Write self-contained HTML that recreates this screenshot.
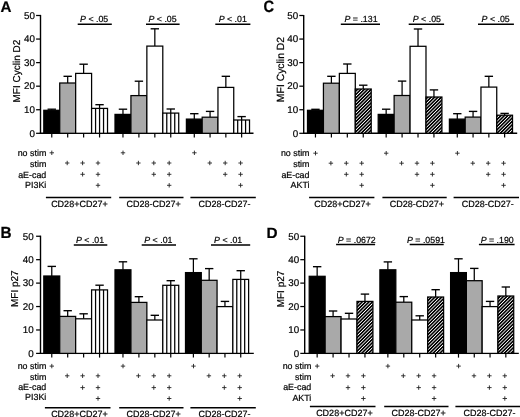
<!DOCTYPE html>
<html><head><meta charset="utf-8"><style>
html,body{margin:0;padding:0;background:#fff;}
body{width:520px;height:417px;overflow:hidden;}
svg{display:block;text-rendering:geometricPrecision;font-family:"Liberation Sans", sans-serif;filter:blur(0.35px);}
text{fill:#000;stroke:#000;stroke-width:0.2px;}
</style></head><body>
<svg width="520" height="417" viewBox="0 0 520 417">
<defs>
<pattern id="hatch" patternUnits="userSpaceOnUse" width="10" height="2.4" patternTransform="rotate(-45)">
<rect width="10" height="2.4" fill="#000"/><rect y="0" width="10" height="0.8" fill="#fff"/>
</pattern>
</defs>
<rect width="520" height="417" fill="#fff"/>
<text x="0" y="0" font-size="15.2" font-weight="bold" transform="translate(0.40,11.70) scale(1,1)">A</text>
<line x1="40.50" y1="14.90" x2="40.50" y2="133.90" stroke="#000" stroke-width="1.4"/>
<line x1="36.10" y1="133.30" x2="40.50" y2="133.30" stroke="#000" stroke-width="1.25"/>
<text x="35.00" y="136.60" font-size="9.8" text-anchor="end" font-weight="normal" font-style="normal" >0</text>
<line x1="36.10" y1="109.74" x2="40.50" y2="109.74" stroke="#000" stroke-width="1.25"/>
<text x="35.00" y="113.04" font-size="9.8" text-anchor="end" font-weight="normal" font-style="normal" >10</text>
<line x1="36.10" y1="86.18" x2="40.50" y2="86.18" stroke="#000" stroke-width="1.25"/>
<text x="35.00" y="89.48" font-size="9.8" text-anchor="end" font-weight="normal" font-style="normal" >20</text>
<line x1="36.10" y1="62.62" x2="40.50" y2="62.62" stroke="#000" stroke-width="1.25"/>
<text x="35.00" y="65.92" font-size="9.8" text-anchor="end" font-weight="normal" font-style="normal" >30</text>
<line x1="36.10" y1="39.06" x2="40.50" y2="39.06" stroke="#000" stroke-width="1.25"/>
<text x="35.00" y="42.36" font-size="9.8" text-anchor="end" font-weight="normal" font-style="normal" >40</text>
<line x1="36.10" y1="15.50" x2="40.50" y2="15.50" stroke="#000" stroke-width="1.25"/>
<text x="35.00" y="18.80" font-size="9.8" text-anchor="end" font-weight="normal" font-style="normal" >50</text>
<text x="0" y="0" font-size="10" text-anchor="middle" transform="translate(19.80,71.10) rotate(-90)">MFI Cyclin D2</text>
<line x1="39.80" y1="133.30" x2="253.50" y2="133.30" stroke="#000" stroke-width="1.4"/>
<line x1="51.77" y1="109.20" x2="51.77" y2="110.30" stroke="#000" stroke-width="1.25"/>
<line x1="47.56" y1="109.20" x2="55.97" y2="109.20" stroke="#000" stroke-width="1.35"/>
<rect x="43.80" y="110.30" width="15.93" height="23.00" fill="#000" stroke="#000" stroke-width="1.25"/>
<line x1="51.77" y1="133.30" x2="51.77" y2="137.50" stroke="#000" stroke-width="1.2"/>
<line x1="67.69" y1="76.30" x2="67.69" y2="83.00" stroke="#000" stroke-width="1.25"/>
<line x1="63.49" y1="76.30" x2="71.89" y2="76.30" stroke="#000" stroke-width="1.35"/>
<rect x="59.73" y="83.00" width="15.93" height="50.30" fill="#a9a9a9" stroke="#000" stroke-width="1.25"/>
<line x1="67.69" y1="133.30" x2="67.69" y2="137.50" stroke="#000" stroke-width="1.2"/>
<line x1="83.62" y1="64.20" x2="83.62" y2="73.40" stroke="#000" stroke-width="1.25"/>
<line x1="79.42" y1="64.20" x2="87.83" y2="64.20" stroke="#000" stroke-width="1.35"/>
<rect x="75.66" y="73.40" width="15.93" height="59.90" fill="#fff" stroke="#000" stroke-width="1.25"/>
<line x1="83.62" y1="133.30" x2="83.62" y2="137.50" stroke="#000" stroke-width="1.2"/>
<line x1="99.56" y1="104.70" x2="99.56" y2="108.40" stroke="#000" stroke-width="1.25"/>
<line x1="95.36" y1="104.70" x2="103.76" y2="104.70" stroke="#000" stroke-width="1.35"/>
<rect x="91.59" y="108.40" width="15.93" height="24.90" fill="#fff" stroke="#000" stroke-width="1.25"/>
<line x1="95.57" y1="108.40" x2="95.57" y2="133.30" stroke="#000" stroke-width="1.25"/>
<line x1="99.56" y1="108.40" x2="99.56" y2="133.30" stroke="#000" stroke-width="1.25"/>
<line x1="103.54" y1="108.40" x2="103.54" y2="133.30" stroke="#000" stroke-width="1.25"/>
<line x1="99.56" y1="133.30" x2="99.56" y2="137.50" stroke="#000" stroke-width="1.2"/>
<line x1="122.97" y1="109.20" x2="122.97" y2="114.40" stroke="#000" stroke-width="1.25"/>
<line x1="118.77" y1="109.20" x2="127.17" y2="109.20" stroke="#000" stroke-width="1.35"/>
<rect x="115.00" y="114.40" width="15.93" height="18.90" fill="#000" stroke="#000" stroke-width="1.25"/>
<line x1="122.97" y1="133.30" x2="122.97" y2="137.50" stroke="#000" stroke-width="1.2"/>
<line x1="138.90" y1="81.20" x2="138.90" y2="95.60" stroke="#000" stroke-width="1.25"/>
<line x1="134.70" y1="81.20" x2="143.09" y2="81.20" stroke="#000" stroke-width="1.35"/>
<rect x="130.93" y="95.60" width="15.93" height="37.70" fill="#a9a9a9" stroke="#000" stroke-width="1.25"/>
<line x1="138.90" y1="133.30" x2="138.90" y2="137.50" stroke="#000" stroke-width="1.2"/>
<line x1="154.83" y1="28.80" x2="154.83" y2="46.10" stroke="#000" stroke-width="1.25"/>
<line x1="150.63" y1="28.80" x2="159.03" y2="28.80" stroke="#000" stroke-width="1.35"/>
<rect x="146.86" y="46.10" width="15.93" height="87.20" fill="#fff" stroke="#000" stroke-width="1.25"/>
<line x1="154.83" y1="133.30" x2="154.83" y2="137.50" stroke="#000" stroke-width="1.2"/>
<line x1="170.75" y1="109.00" x2="170.75" y2="113.10" stroke="#000" stroke-width="1.25"/>
<line x1="166.56" y1="109.00" x2="174.95" y2="109.00" stroke="#000" stroke-width="1.35"/>
<rect x="162.79" y="113.10" width="15.93" height="20.20" fill="#fff" stroke="#000" stroke-width="1.25"/>
<line x1="166.77" y1="113.10" x2="166.77" y2="133.30" stroke="#000" stroke-width="1.25"/>
<line x1="170.75" y1="113.10" x2="170.75" y2="133.30" stroke="#000" stroke-width="1.25"/>
<line x1="174.74" y1="113.10" x2="174.74" y2="133.30" stroke="#000" stroke-width="1.25"/>
<line x1="170.75" y1="133.30" x2="170.75" y2="137.50" stroke="#000" stroke-width="1.2"/>
<line x1="194.29" y1="113.70" x2="194.29" y2="119.10" stroke="#000" stroke-width="1.25"/>
<line x1="190.09" y1="113.70" x2="198.49" y2="113.70" stroke="#000" stroke-width="1.35"/>
<rect x="186.40" y="119.10" width="15.78" height="14.20" fill="#000" stroke="#000" stroke-width="1.25"/>
<line x1="194.29" y1="133.30" x2="194.29" y2="137.50" stroke="#000" stroke-width="1.2"/>
<line x1="210.07" y1="111.40" x2="210.07" y2="117.20" stroke="#000" stroke-width="1.25"/>
<line x1="205.87" y1="111.40" x2="214.27" y2="111.40" stroke="#000" stroke-width="1.35"/>
<rect x="202.18" y="117.20" width="15.78" height="16.10" fill="#a9a9a9" stroke="#000" stroke-width="1.25"/>
<line x1="210.07" y1="133.30" x2="210.07" y2="137.50" stroke="#000" stroke-width="1.2"/>
<line x1="225.85" y1="76.30" x2="225.85" y2="87.40" stroke="#000" stroke-width="1.25"/>
<line x1="221.65" y1="76.30" x2="230.05" y2="76.30" stroke="#000" stroke-width="1.35"/>
<rect x="217.96" y="87.40" width="15.78" height="45.90" fill="#fff" stroke="#000" stroke-width="1.25"/>
<line x1="225.85" y1="133.30" x2="225.85" y2="137.50" stroke="#000" stroke-width="1.2"/>
<line x1="241.63" y1="116.60" x2="241.63" y2="120.00" stroke="#000" stroke-width="1.25"/>
<line x1="237.43" y1="116.60" x2="245.83" y2="116.60" stroke="#000" stroke-width="1.35"/>
<rect x="233.74" y="120.00" width="15.78" height="13.30" fill="#fff" stroke="#000" stroke-width="1.25"/>
<line x1="237.69" y1="120.00" x2="237.69" y2="133.30" stroke="#000" stroke-width="1.25"/>
<line x1="241.63" y1="120.00" x2="241.63" y2="133.30" stroke="#000" stroke-width="1.25"/>
<line x1="245.58" y1="120.00" x2="245.58" y2="133.30" stroke="#000" stroke-width="1.25"/>
<line x1="241.63" y1="133.30" x2="241.63" y2="137.50" stroke="#000" stroke-width="1.2"/>
<line x1="77.70" y1="24.30" x2="111.80" y2="24.30" stroke="#000" stroke-width="1.5"/>
<text x="80.10" y="22.40" font-size="8.8"><tspan font-style="italic">P</tspan> &lt; .05</text>
<line x1="146.00" y1="24.30" x2="179.60" y2="24.30" stroke="#000" stroke-width="1.5"/>
<text x="148.50" y="22.40" font-size="8.8"><tspan font-style="italic">P</tspan> &lt; .05</text>
<line x1="215.30" y1="24.30" x2="250.40" y2="24.30" stroke="#000" stroke-width="1.5"/>
<text x="218.70" y="22.40" font-size="8.8"><tspan font-style="italic">P</tspan> &lt; .01</text>
<text x="46.30" y="156.00" font-size="8.9" text-anchor="end" font-weight="normal" font-style="normal" >no stim</text>
<text x="46.30" y="166.80" font-size="8.9" text-anchor="end" font-weight="normal" font-style="normal" >stim</text>
<text x="46.30" y="177.60" font-size="8.9" text-anchor="end" font-weight="normal" font-style="normal" >aE-cad</text>
<text x="46.30" y="188.20" font-size="8.9" text-anchor="end" font-weight="normal" font-style="normal" >PI3Ki</text>
<line x1="49.60" y1="152.80" x2="54.00" y2="152.80" stroke="#222" stroke-width="0.9"/>
<line x1="51.80" y1="150.60" x2="51.80" y2="155.00" stroke="#222" stroke-width="0.9"/>
<line x1="65.00" y1="163.00" x2="69.40" y2="163.00" stroke="#222" stroke-width="0.9"/>
<line x1="67.20" y1="160.80" x2="67.20" y2="165.20" stroke="#222" stroke-width="0.9"/>
<line x1="80.40" y1="163.00" x2="84.80" y2="163.00" stroke="#222" stroke-width="0.9"/>
<line x1="82.60" y1="160.80" x2="82.60" y2="165.20" stroke="#222" stroke-width="0.9"/>
<line x1="95.80" y1="163.00" x2="100.20" y2="163.00" stroke="#222" stroke-width="0.9"/>
<line x1="98.00" y1="160.80" x2="98.00" y2="165.20" stroke="#222" stroke-width="0.9"/>
<line x1="80.40" y1="174.30" x2="84.80" y2="174.30" stroke="#222" stroke-width="0.9"/>
<line x1="82.60" y1="172.10" x2="82.60" y2="176.50" stroke="#222" stroke-width="0.9"/>
<line x1="95.80" y1="174.30" x2="100.20" y2="174.30" stroke="#222" stroke-width="0.9"/>
<line x1="98.00" y1="172.10" x2="98.00" y2="176.50" stroke="#222" stroke-width="0.9"/>
<line x1="95.80" y1="185.30" x2="100.20" y2="185.30" stroke="#222" stroke-width="0.9"/>
<line x1="98.00" y1="183.10" x2="98.00" y2="187.50" stroke="#222" stroke-width="0.9"/>
<line x1="120.80" y1="152.80" x2="125.20" y2="152.80" stroke="#222" stroke-width="0.9"/>
<line x1="123.00" y1="150.60" x2="123.00" y2="155.00" stroke="#222" stroke-width="0.9"/>
<line x1="136.20" y1="163.00" x2="140.60" y2="163.00" stroke="#222" stroke-width="0.9"/>
<line x1="138.40" y1="160.80" x2="138.40" y2="165.20" stroke="#222" stroke-width="0.9"/>
<line x1="151.60" y1="163.00" x2="156.00" y2="163.00" stroke="#222" stroke-width="0.9"/>
<line x1="153.80" y1="160.80" x2="153.80" y2="165.20" stroke="#222" stroke-width="0.9"/>
<line x1="167.00" y1="163.00" x2="171.40" y2="163.00" stroke="#222" stroke-width="0.9"/>
<line x1="169.20" y1="160.80" x2="169.20" y2="165.20" stroke="#222" stroke-width="0.9"/>
<line x1="151.60" y1="174.30" x2="156.00" y2="174.30" stroke="#222" stroke-width="0.9"/>
<line x1="153.80" y1="172.10" x2="153.80" y2="176.50" stroke="#222" stroke-width="0.9"/>
<line x1="167.00" y1="174.30" x2="171.40" y2="174.30" stroke="#222" stroke-width="0.9"/>
<line x1="169.20" y1="172.10" x2="169.20" y2="176.50" stroke="#222" stroke-width="0.9"/>
<line x1="167.00" y1="185.30" x2="171.40" y2="185.30" stroke="#222" stroke-width="0.9"/>
<line x1="169.20" y1="183.10" x2="169.20" y2="187.50" stroke="#222" stroke-width="0.9"/>
<line x1="192.20" y1="152.80" x2="196.60" y2="152.80" stroke="#222" stroke-width="0.9"/>
<line x1="194.40" y1="150.60" x2="194.40" y2="155.00" stroke="#222" stroke-width="0.9"/>
<line x1="207.60" y1="163.00" x2="212.00" y2="163.00" stroke="#222" stroke-width="0.9"/>
<line x1="209.80" y1="160.80" x2="209.80" y2="165.20" stroke="#222" stroke-width="0.9"/>
<line x1="223.00" y1="163.00" x2="227.40" y2="163.00" stroke="#222" stroke-width="0.9"/>
<line x1="225.20" y1="160.80" x2="225.20" y2="165.20" stroke="#222" stroke-width="0.9"/>
<line x1="238.40" y1="163.00" x2="242.80" y2="163.00" stroke="#222" stroke-width="0.9"/>
<line x1="240.60" y1="160.80" x2="240.60" y2="165.20" stroke="#222" stroke-width="0.9"/>
<line x1="223.00" y1="174.30" x2="227.40" y2="174.30" stroke="#222" stroke-width="0.9"/>
<line x1="225.20" y1="172.10" x2="225.20" y2="176.50" stroke="#222" stroke-width="0.9"/>
<line x1="238.40" y1="174.30" x2="242.80" y2="174.30" stroke="#222" stroke-width="0.9"/>
<line x1="240.60" y1="172.10" x2="240.60" y2="176.50" stroke="#222" stroke-width="0.9"/>
<line x1="238.40" y1="185.30" x2="242.80" y2="185.30" stroke="#222" stroke-width="0.9"/>
<line x1="240.60" y1="183.10" x2="240.60" y2="187.50" stroke="#222" stroke-width="0.9"/>
<line x1="45.90" y1="197.60" x2="111.20" y2="197.60" stroke="#000" stroke-width="1.5"/>
<text x="79.40" y="207.00" font-size="9.0" text-anchor="middle" font-weight="normal" font-style="normal" >CD28+CD27+</text>
<line x1="119.20" y1="197.60" x2="183.50" y2="197.60" stroke="#000" stroke-width="1.5"/>
<text x="153.70" y="207.00" font-size="9.0" text-anchor="middle" font-weight="normal" font-style="normal" >CD28-CD27+</text>
<line x1="190.40" y1="197.60" x2="255.80" y2="197.60" stroke="#000" stroke-width="1.5"/>
<text x="224.60" y="207.00" font-size="9.0" text-anchor="middle" font-weight="normal" font-style="normal" >CD28-CD27-</text>
<text x="0" y="0" font-size="14.6" font-weight="bold" transform="translate(0.40,237.50) scale(1.05,1.1)">B</text>
<line x1="40.50" y1="235.65" x2="40.50" y2="354.00" stroke="#000" stroke-width="1.4"/>
<line x1="36.10" y1="353.40" x2="40.50" y2="353.40" stroke="#000" stroke-width="1.25"/>
<text x="33.60" y="356.70" font-size="9.8" text-anchor="end" font-weight="normal" font-style="normal" >0</text>
<line x1="36.10" y1="329.97" x2="40.50" y2="329.97" stroke="#000" stroke-width="1.25"/>
<text x="33.60" y="333.27" font-size="9.8" text-anchor="end" font-weight="normal" font-style="normal" >10</text>
<line x1="36.10" y1="306.54" x2="40.50" y2="306.54" stroke="#000" stroke-width="1.25"/>
<text x="33.60" y="309.84" font-size="9.8" text-anchor="end" font-weight="normal" font-style="normal" >20</text>
<line x1="36.10" y1="283.11" x2="40.50" y2="283.11" stroke="#000" stroke-width="1.25"/>
<text x="33.60" y="286.41" font-size="9.8" text-anchor="end" font-weight="normal" font-style="normal" >30</text>
<line x1="36.10" y1="259.68" x2="40.50" y2="259.68" stroke="#000" stroke-width="1.25"/>
<text x="33.60" y="262.98" font-size="9.8" text-anchor="end" font-weight="normal" font-style="normal" >40</text>
<line x1="36.10" y1="236.25" x2="40.50" y2="236.25" stroke="#000" stroke-width="1.25"/>
<text x="33.60" y="239.55" font-size="9.8" text-anchor="end" font-weight="normal" font-style="normal" >50</text>
<text x="0" y="0" font-size="10" text-anchor="middle" transform="translate(18.40,288.70) rotate(-90)">MFI p27</text>
<line x1="39.80" y1="353.40" x2="253.80" y2="353.40" stroke="#000" stroke-width="1.4"/>
<line x1="51.77" y1="266.40" x2="51.77" y2="276.00" stroke="#000" stroke-width="1.25"/>
<line x1="47.56" y1="266.40" x2="55.97" y2="266.40" stroke="#000" stroke-width="1.35"/>
<rect x="43.80" y="276.00" width="15.93" height="77.40" fill="#000" stroke="#000" stroke-width="1.25"/>
<line x1="51.77" y1="353.40" x2="51.77" y2="357.60" stroke="#000" stroke-width="1.2"/>
<line x1="67.69" y1="310.70" x2="67.69" y2="316.40" stroke="#000" stroke-width="1.25"/>
<line x1="63.49" y1="310.70" x2="71.89" y2="310.70" stroke="#000" stroke-width="1.35"/>
<rect x="59.73" y="316.40" width="15.93" height="37.00" fill="#a9a9a9" stroke="#000" stroke-width="1.25"/>
<line x1="67.69" y1="353.40" x2="67.69" y2="357.60" stroke="#000" stroke-width="1.2"/>
<line x1="83.62" y1="313.80" x2="83.62" y2="318.80" stroke="#000" stroke-width="1.25"/>
<line x1="79.42" y1="313.80" x2="87.83" y2="313.80" stroke="#000" stroke-width="1.35"/>
<rect x="75.66" y="318.80" width="15.93" height="34.60" fill="#fff" stroke="#000" stroke-width="1.25"/>
<line x1="83.62" y1="353.40" x2="83.62" y2="357.60" stroke="#000" stroke-width="1.2"/>
<line x1="99.56" y1="285.20" x2="99.56" y2="289.90" stroke="#000" stroke-width="1.25"/>
<line x1="95.36" y1="285.20" x2="103.76" y2="285.20" stroke="#000" stroke-width="1.35"/>
<rect x="91.59" y="289.90" width="15.93" height="63.50" fill="#fff" stroke="#000" stroke-width="1.25"/>
<line x1="95.57" y1="289.90" x2="95.57" y2="353.40" stroke="#000" stroke-width="1.25"/>
<line x1="99.56" y1="289.90" x2="99.56" y2="353.40" stroke="#000" stroke-width="1.25"/>
<line x1="103.54" y1="289.90" x2="103.54" y2="353.40" stroke="#000" stroke-width="1.25"/>
<line x1="99.56" y1="353.40" x2="99.56" y2="357.60" stroke="#000" stroke-width="1.2"/>
<line x1="122.97" y1="261.80" x2="122.97" y2="269.80" stroke="#000" stroke-width="1.25"/>
<line x1="118.77" y1="261.80" x2="127.17" y2="261.80" stroke="#000" stroke-width="1.35"/>
<rect x="115.00" y="269.80" width="15.93" height="83.60" fill="#000" stroke="#000" stroke-width="1.25"/>
<line x1="122.97" y1="353.40" x2="122.97" y2="357.60" stroke="#000" stroke-width="1.2"/>
<line x1="138.90" y1="296.70" x2="138.90" y2="302.40" stroke="#000" stroke-width="1.25"/>
<line x1="134.70" y1="296.70" x2="143.09" y2="296.70" stroke="#000" stroke-width="1.35"/>
<rect x="130.93" y="302.40" width="15.93" height="51.00" fill="#a9a9a9" stroke="#000" stroke-width="1.25"/>
<line x1="138.90" y1="353.40" x2="138.90" y2="357.60" stroke="#000" stroke-width="1.2"/>
<line x1="154.83" y1="315.30" x2="154.83" y2="320.00" stroke="#000" stroke-width="1.25"/>
<line x1="150.63" y1="315.30" x2="159.03" y2="315.30" stroke="#000" stroke-width="1.35"/>
<rect x="146.86" y="320.00" width="15.93" height="33.40" fill="#fff" stroke="#000" stroke-width="1.25"/>
<line x1="154.83" y1="353.40" x2="154.83" y2="357.60" stroke="#000" stroke-width="1.2"/>
<line x1="170.75" y1="280.70" x2="170.75" y2="285.30" stroke="#000" stroke-width="1.25"/>
<line x1="166.56" y1="280.70" x2="174.95" y2="280.70" stroke="#000" stroke-width="1.35"/>
<rect x="162.79" y="285.30" width="15.93" height="68.10" fill="#fff" stroke="#000" stroke-width="1.25"/>
<line x1="166.77" y1="285.30" x2="166.77" y2="353.40" stroke="#000" stroke-width="1.25"/>
<line x1="170.75" y1="285.30" x2="170.75" y2="353.40" stroke="#000" stroke-width="1.25"/>
<line x1="174.74" y1="285.30" x2="174.74" y2="353.40" stroke="#000" stroke-width="1.25"/>
<line x1="170.75" y1="353.40" x2="170.75" y2="357.60" stroke="#000" stroke-width="1.2"/>
<line x1="193.39" y1="258.80" x2="193.39" y2="272.60" stroke="#000" stroke-width="1.25"/>
<line x1="189.19" y1="258.80" x2="197.59" y2="258.80" stroke="#000" stroke-width="1.35"/>
<rect x="185.50" y="272.60" width="15.78" height="80.80" fill="#000" stroke="#000" stroke-width="1.25"/>
<line x1="193.39" y1="353.40" x2="193.39" y2="357.60" stroke="#000" stroke-width="1.2"/>
<line x1="209.17" y1="268.60" x2="209.17" y2="280.30" stroke="#000" stroke-width="1.25"/>
<line x1="204.97" y1="268.60" x2="213.37" y2="268.60" stroke="#000" stroke-width="1.35"/>
<rect x="201.28" y="280.30" width="15.78" height="73.10" fill="#a9a9a9" stroke="#000" stroke-width="1.25"/>
<line x1="209.17" y1="353.40" x2="209.17" y2="357.60" stroke="#000" stroke-width="1.2"/>
<line x1="224.95" y1="301.40" x2="224.95" y2="306.60" stroke="#000" stroke-width="1.25"/>
<line x1="220.75" y1="301.40" x2="229.15" y2="301.40" stroke="#000" stroke-width="1.35"/>
<rect x="217.06" y="306.60" width="15.78" height="46.80" fill="#fff" stroke="#000" stroke-width="1.25"/>
<line x1="224.95" y1="353.40" x2="224.95" y2="357.60" stroke="#000" stroke-width="1.2"/>
<line x1="240.73" y1="270.70" x2="240.73" y2="279.40" stroke="#000" stroke-width="1.25"/>
<line x1="236.53" y1="270.70" x2="244.93" y2="270.70" stroke="#000" stroke-width="1.35"/>
<rect x="232.84" y="279.40" width="15.78" height="74.00" fill="#fff" stroke="#000" stroke-width="1.25"/>
<line x1="236.78" y1="279.40" x2="236.78" y2="353.40" stroke="#000" stroke-width="1.25"/>
<line x1="240.73" y1="279.40" x2="240.73" y2="353.40" stroke="#000" stroke-width="1.25"/>
<line x1="244.68" y1="279.40" x2="244.68" y2="353.40" stroke="#000" stroke-width="1.25"/>
<line x1="240.73" y1="353.40" x2="240.73" y2="357.60" stroke="#000" stroke-width="1.2"/>
<line x1="73.80" y1="244.90" x2="107.30" y2="244.90" stroke="#000" stroke-width="1.5"/>
<text x="76.00" y="242.80" font-size="8.8"><tspan font-style="italic">P</tspan> &lt; .01</text>
<line x1="141.70" y1="244.90" x2="176.00" y2="244.90" stroke="#000" stroke-width="1.5"/>
<text x="144.30" y="242.80" font-size="8.8"><tspan font-style="italic">P</tspan> &lt; .01</text>
<line x1="211.00" y1="244.90" x2="250.20" y2="244.90" stroke="#000" stroke-width="1.5"/>
<text x="214.10" y="242.80" font-size="8.8"><tspan font-style="italic">P</tspan> &lt; .01</text>
<text x="46.30" y="369.10" font-size="8.9" text-anchor="end" font-weight="normal" font-style="normal" >no stim</text>
<text x="46.30" y="379.50" font-size="8.9" text-anchor="end" font-weight="normal" font-style="normal" >stim</text>
<text x="46.30" y="390.20" font-size="8.9" text-anchor="end" font-weight="normal" font-style="normal" >aE-cad</text>
<text x="46.30" y="400.30" font-size="8.9" text-anchor="end" font-weight="normal" font-style="normal" >PI3Ki</text>
<line x1="49.60" y1="366.10" x2="54.00" y2="366.10" stroke="#222" stroke-width="0.9"/>
<line x1="51.80" y1="363.90" x2="51.80" y2="368.30" stroke="#222" stroke-width="0.9"/>
<line x1="65.00" y1="375.80" x2="69.40" y2="375.80" stroke="#222" stroke-width="0.9"/>
<line x1="67.20" y1="373.60" x2="67.20" y2="378.00" stroke="#222" stroke-width="0.9"/>
<line x1="80.40" y1="375.80" x2="84.80" y2="375.80" stroke="#222" stroke-width="0.9"/>
<line x1="82.60" y1="373.60" x2="82.60" y2="378.00" stroke="#222" stroke-width="0.9"/>
<line x1="95.80" y1="375.80" x2="100.20" y2="375.80" stroke="#222" stroke-width="0.9"/>
<line x1="98.00" y1="373.60" x2="98.00" y2="378.00" stroke="#222" stroke-width="0.9"/>
<line x1="80.40" y1="387.60" x2="84.80" y2="387.60" stroke="#222" stroke-width="0.9"/>
<line x1="82.60" y1="385.40" x2="82.60" y2="389.80" stroke="#222" stroke-width="0.9"/>
<line x1="95.80" y1="387.60" x2="100.20" y2="387.60" stroke="#222" stroke-width="0.9"/>
<line x1="98.00" y1="385.40" x2="98.00" y2="389.80" stroke="#222" stroke-width="0.9"/>
<line x1="95.80" y1="398.50" x2="100.20" y2="398.50" stroke="#222" stroke-width="0.9"/>
<line x1="98.00" y1="396.30" x2="98.00" y2="400.70" stroke="#222" stroke-width="0.9"/>
<line x1="120.80" y1="366.10" x2="125.20" y2="366.10" stroke="#222" stroke-width="0.9"/>
<line x1="123.00" y1="363.90" x2="123.00" y2="368.30" stroke="#222" stroke-width="0.9"/>
<line x1="136.20" y1="375.80" x2="140.60" y2="375.80" stroke="#222" stroke-width="0.9"/>
<line x1="138.40" y1="373.60" x2="138.40" y2="378.00" stroke="#222" stroke-width="0.9"/>
<line x1="151.60" y1="375.80" x2="156.00" y2="375.80" stroke="#222" stroke-width="0.9"/>
<line x1="153.80" y1="373.60" x2="153.80" y2="378.00" stroke="#222" stroke-width="0.9"/>
<line x1="167.00" y1="375.80" x2="171.40" y2="375.80" stroke="#222" stroke-width="0.9"/>
<line x1="169.20" y1="373.60" x2="169.20" y2="378.00" stroke="#222" stroke-width="0.9"/>
<line x1="151.60" y1="387.60" x2="156.00" y2="387.60" stroke="#222" stroke-width="0.9"/>
<line x1="153.80" y1="385.40" x2="153.80" y2="389.80" stroke="#222" stroke-width="0.9"/>
<line x1="167.00" y1="387.60" x2="171.40" y2="387.60" stroke="#222" stroke-width="0.9"/>
<line x1="169.20" y1="385.40" x2="169.20" y2="389.80" stroke="#222" stroke-width="0.9"/>
<line x1="167.00" y1="398.50" x2="171.40" y2="398.50" stroke="#222" stroke-width="0.9"/>
<line x1="169.20" y1="396.30" x2="169.20" y2="400.70" stroke="#222" stroke-width="0.9"/>
<line x1="191.30" y1="366.10" x2="195.70" y2="366.10" stroke="#222" stroke-width="0.9"/>
<line x1="193.50" y1="363.90" x2="193.50" y2="368.30" stroke="#222" stroke-width="0.9"/>
<line x1="206.70" y1="375.80" x2="211.10" y2="375.80" stroke="#222" stroke-width="0.9"/>
<line x1="208.90" y1="373.60" x2="208.90" y2="378.00" stroke="#222" stroke-width="0.9"/>
<line x1="222.10" y1="375.80" x2="226.50" y2="375.80" stroke="#222" stroke-width="0.9"/>
<line x1="224.30" y1="373.60" x2="224.30" y2="378.00" stroke="#222" stroke-width="0.9"/>
<line x1="237.50" y1="375.80" x2="241.90" y2="375.80" stroke="#222" stroke-width="0.9"/>
<line x1="239.70" y1="373.60" x2="239.70" y2="378.00" stroke="#222" stroke-width="0.9"/>
<line x1="222.10" y1="387.60" x2="226.50" y2="387.60" stroke="#222" stroke-width="0.9"/>
<line x1="224.30" y1="385.40" x2="224.30" y2="389.80" stroke="#222" stroke-width="0.9"/>
<line x1="237.50" y1="387.60" x2="241.90" y2="387.60" stroke="#222" stroke-width="0.9"/>
<line x1="239.70" y1="385.40" x2="239.70" y2="389.80" stroke="#222" stroke-width="0.9"/>
<line x1="237.50" y1="398.50" x2="241.90" y2="398.50" stroke="#222" stroke-width="0.9"/>
<line x1="239.70" y1="396.30" x2="239.70" y2="400.70" stroke="#222" stroke-width="0.9"/>
<line x1="44.90" y1="407.80" x2="110.50" y2="407.80" stroke="#000" stroke-width="1.5"/>
<text x="79.40" y="417.30" font-size="9.0" text-anchor="middle" font-weight="normal" font-style="normal" >CD28+CD27+</text>
<line x1="119.20" y1="407.80" x2="183.50" y2="407.80" stroke="#000" stroke-width="1.5"/>
<text x="153.70" y="417.30" font-size="9.0" text-anchor="middle" font-weight="normal" font-style="normal" >CD28-CD27+</text>
<line x1="190.40" y1="407.80" x2="255.80" y2="407.80" stroke="#000" stroke-width="1.5"/>
<text x="224.60" y="417.30" font-size="9.0" text-anchor="middle" font-weight="normal" font-style="normal" >CD28-CD27-</text>
<text x="0" y="0" font-size="14.6" font-weight="bold" transform="translate(263.40,11.70) scale(1.0,1.13)">C</text>
<line x1="303.70" y1="14.90" x2="303.70" y2="133.90" stroke="#000" stroke-width="1.4"/>
<line x1="299.30" y1="133.30" x2="303.70" y2="133.30" stroke="#000" stroke-width="1.25"/>
<text x="298.20" y="136.60" font-size="9.8" text-anchor="end" font-weight="normal" font-style="normal" >0</text>
<line x1="299.30" y1="109.74" x2="303.70" y2="109.74" stroke="#000" stroke-width="1.25"/>
<text x="298.20" y="113.04" font-size="9.8" text-anchor="end" font-weight="normal" font-style="normal" >10</text>
<line x1="299.30" y1="86.18" x2="303.70" y2="86.18" stroke="#000" stroke-width="1.25"/>
<text x="298.20" y="89.48" font-size="9.8" text-anchor="end" font-weight="normal" font-style="normal" >20</text>
<line x1="299.30" y1="62.62" x2="303.70" y2="62.62" stroke="#000" stroke-width="1.25"/>
<text x="298.20" y="65.92" font-size="9.8" text-anchor="end" font-weight="normal" font-style="normal" >30</text>
<line x1="299.30" y1="39.06" x2="303.70" y2="39.06" stroke="#000" stroke-width="1.25"/>
<text x="298.20" y="42.36" font-size="9.8" text-anchor="end" font-weight="normal" font-style="normal" >40</text>
<line x1="299.30" y1="15.50" x2="303.70" y2="15.50" stroke="#000" stroke-width="1.25"/>
<text x="298.20" y="18.80" font-size="9.8" text-anchor="end" font-weight="normal" font-style="normal" >50</text>
<text x="0" y="0" font-size="10.4" text-anchor="middle" transform="translate(283.70,69.50) rotate(-90)">MFI Cyclin D2</text>
<line x1="303.00" y1="133.30" x2="517.20" y2="133.30" stroke="#000" stroke-width="1.4"/>
<line x1="315.46" y1="109.30" x2="315.46" y2="110.30" stroke="#000" stroke-width="1.25"/>
<line x1="311.26" y1="109.30" x2="319.66" y2="109.30" stroke="#000" stroke-width="1.35"/>
<rect x="307.50" y="110.30" width="15.93" height="23.00" fill="#000" stroke="#000" stroke-width="1.25"/>
<line x1="315.46" y1="133.30" x2="315.46" y2="137.50" stroke="#000" stroke-width="1.2"/>
<line x1="331.39" y1="76.30" x2="331.39" y2="83.20" stroke="#000" stroke-width="1.25"/>
<line x1="327.19" y1="76.30" x2="335.59" y2="76.30" stroke="#000" stroke-width="1.35"/>
<rect x="323.43" y="83.20" width="15.93" height="50.10" fill="#a9a9a9" stroke="#000" stroke-width="1.25"/>
<line x1="331.39" y1="133.30" x2="331.39" y2="137.50" stroke="#000" stroke-width="1.2"/>
<line x1="347.32" y1="64.00" x2="347.32" y2="73.40" stroke="#000" stroke-width="1.25"/>
<line x1="343.12" y1="64.00" x2="351.52" y2="64.00" stroke="#000" stroke-width="1.35"/>
<rect x="339.36" y="73.40" width="15.93" height="59.90" fill="#fff" stroke="#000" stroke-width="1.25"/>
<line x1="347.32" y1="133.30" x2="347.32" y2="137.50" stroke="#000" stroke-width="1.2"/>
<line x1="363.25" y1="85.20" x2="363.25" y2="89.00" stroke="#000" stroke-width="1.25"/>
<line x1="359.06" y1="85.20" x2="367.45" y2="85.20" stroke="#000" stroke-width="1.35"/>
<rect x="355.29" y="89.00" width="15.93" height="44.30" fill="url(#hatch)" stroke="#000" stroke-width="1.25"/>
<line x1="363.25" y1="133.30" x2="363.25" y2="137.50" stroke="#000" stroke-width="1.2"/>
<line x1="386.16" y1="109.20" x2="386.16" y2="114.40" stroke="#000" stroke-width="1.25"/>
<line x1="381.96" y1="109.20" x2="390.36" y2="109.20" stroke="#000" stroke-width="1.35"/>
<rect x="378.20" y="114.40" width="15.93" height="18.90" fill="#000" stroke="#000" stroke-width="1.25"/>
<line x1="386.16" y1="133.30" x2="386.16" y2="137.50" stroke="#000" stroke-width="1.2"/>
<line x1="402.09" y1="81.10" x2="402.09" y2="95.50" stroke="#000" stroke-width="1.25"/>
<line x1="397.89" y1="81.10" x2="406.29" y2="81.10" stroke="#000" stroke-width="1.35"/>
<rect x="394.13" y="95.50" width="15.93" height="37.80" fill="#a9a9a9" stroke="#000" stroke-width="1.25"/>
<line x1="402.09" y1="133.30" x2="402.09" y2="137.50" stroke="#000" stroke-width="1.2"/>
<line x1="418.02" y1="29.00" x2="418.02" y2="46.30" stroke="#000" stroke-width="1.25"/>
<line x1="413.82" y1="29.00" x2="422.22" y2="29.00" stroke="#000" stroke-width="1.35"/>
<rect x="410.06" y="46.30" width="15.93" height="87.00" fill="#fff" stroke="#000" stroke-width="1.25"/>
<line x1="418.02" y1="133.30" x2="418.02" y2="137.50" stroke="#000" stroke-width="1.2"/>
<line x1="433.95" y1="89.90" x2="433.95" y2="97.00" stroke="#000" stroke-width="1.25"/>
<line x1="429.75" y1="89.90" x2="438.15" y2="89.90" stroke="#000" stroke-width="1.35"/>
<rect x="425.99" y="97.00" width="15.93" height="36.30" fill="url(#hatch)" stroke="#000" stroke-width="1.25"/>
<line x1="433.95" y1="133.30" x2="433.95" y2="137.50" stroke="#000" stroke-width="1.2"/>
<line x1="457.29" y1="113.70" x2="457.29" y2="119.10" stroke="#000" stroke-width="1.25"/>
<line x1="453.09" y1="113.70" x2="461.49" y2="113.70" stroke="#000" stroke-width="1.35"/>
<rect x="449.40" y="119.10" width="15.78" height="14.20" fill="#000" stroke="#000" stroke-width="1.25"/>
<line x1="457.29" y1="133.30" x2="457.29" y2="137.50" stroke="#000" stroke-width="1.2"/>
<line x1="473.07" y1="111.40" x2="473.07" y2="117.10" stroke="#000" stroke-width="1.25"/>
<line x1="468.87" y1="111.40" x2="477.27" y2="111.40" stroke="#000" stroke-width="1.35"/>
<rect x="465.18" y="117.10" width="15.78" height="16.20" fill="#a9a9a9" stroke="#000" stroke-width="1.25"/>
<line x1="473.07" y1="133.30" x2="473.07" y2="137.50" stroke="#000" stroke-width="1.2"/>
<line x1="488.85" y1="76.30" x2="488.85" y2="87.10" stroke="#000" stroke-width="1.25"/>
<line x1="484.65" y1="76.30" x2="493.05" y2="76.30" stroke="#000" stroke-width="1.35"/>
<rect x="480.96" y="87.10" width="15.78" height="46.20" fill="#fff" stroke="#000" stroke-width="1.25"/>
<line x1="488.85" y1="133.30" x2="488.85" y2="137.50" stroke="#000" stroke-width="1.2"/>
<line x1="504.63" y1="113.40" x2="504.63" y2="115.20" stroke="#000" stroke-width="1.25"/>
<line x1="500.43" y1="113.40" x2="508.83" y2="113.40" stroke="#000" stroke-width="1.35"/>
<rect x="496.74" y="115.20" width="15.78" height="18.10" fill="url(#hatch)" stroke="#000" stroke-width="1.25"/>
<line x1="504.63" y1="133.30" x2="504.63" y2="137.50" stroke="#000" stroke-width="1.2"/>
<line x1="340.80" y1="24.30" x2="380.00" y2="24.30" stroke="#000" stroke-width="1.5"/>
<text x="344.50" y="22.40" font-size="8.8"><tspan font-style="italic">P</tspan> = .131</text>
<line x1="408.70" y1="24.30" x2="444.10" y2="24.30" stroke="#000" stroke-width="1.5"/>
<text x="412.80" y="22.40" font-size="8.8"><tspan font-style="italic">P</tspan> &lt; .05</text>
<line x1="478.00" y1="24.30" x2="513.90" y2="24.30" stroke="#000" stroke-width="1.5"/>
<text x="481.60" y="22.40" font-size="8.8"><tspan font-style="italic">P</tspan> &lt; .05</text>
<text x="309.50" y="156.20" font-size="8.9" text-anchor="end" font-weight="normal" font-style="normal" >no stim</text>
<text x="309.50" y="167.00" font-size="8.9" text-anchor="end" font-weight="normal" font-style="normal" >stim</text>
<text x="309.50" y="177.70" font-size="8.9" text-anchor="end" font-weight="normal" font-style="normal" >aE-cad</text>
<text x="309.50" y="188.30" font-size="8.9" text-anchor="end" font-weight="normal" font-style="normal" >AKTi</text>
<line x1="313.30" y1="153.20" x2="317.70" y2="153.20" stroke="#222" stroke-width="0.9"/>
<line x1="315.50" y1="151.00" x2="315.50" y2="155.40" stroke="#222" stroke-width="0.9"/>
<line x1="328.70" y1="163.20" x2="333.10" y2="163.20" stroke="#222" stroke-width="0.9"/>
<line x1="330.90" y1="161.00" x2="330.90" y2="165.40" stroke="#222" stroke-width="0.9"/>
<line x1="344.10" y1="163.20" x2="348.50" y2="163.20" stroke="#222" stroke-width="0.9"/>
<line x1="346.30" y1="161.00" x2="346.30" y2="165.40" stroke="#222" stroke-width="0.9"/>
<line x1="359.50" y1="163.20" x2="363.90" y2="163.20" stroke="#222" stroke-width="0.9"/>
<line x1="361.70" y1="161.00" x2="361.70" y2="165.40" stroke="#222" stroke-width="0.9"/>
<line x1="344.10" y1="174.30" x2="348.50" y2="174.30" stroke="#222" stroke-width="0.9"/>
<line x1="346.30" y1="172.10" x2="346.30" y2="176.50" stroke="#222" stroke-width="0.9"/>
<line x1="359.50" y1="174.30" x2="363.90" y2="174.30" stroke="#222" stroke-width="0.9"/>
<line x1="361.70" y1="172.10" x2="361.70" y2="176.50" stroke="#222" stroke-width="0.9"/>
<line x1="359.50" y1="185.30" x2="363.90" y2="185.30" stroke="#222" stroke-width="0.9"/>
<line x1="361.70" y1="183.10" x2="361.70" y2="187.50" stroke="#222" stroke-width="0.9"/>
<line x1="384.00" y1="153.20" x2="388.40" y2="153.20" stroke="#222" stroke-width="0.9"/>
<line x1="386.20" y1="151.00" x2="386.20" y2="155.40" stroke="#222" stroke-width="0.9"/>
<line x1="399.40" y1="163.20" x2="403.80" y2="163.20" stroke="#222" stroke-width="0.9"/>
<line x1="401.60" y1="161.00" x2="401.60" y2="165.40" stroke="#222" stroke-width="0.9"/>
<line x1="414.80" y1="163.20" x2="419.20" y2="163.20" stroke="#222" stroke-width="0.9"/>
<line x1="417.00" y1="161.00" x2="417.00" y2="165.40" stroke="#222" stroke-width="0.9"/>
<line x1="430.20" y1="163.20" x2="434.60" y2="163.20" stroke="#222" stroke-width="0.9"/>
<line x1="432.40" y1="161.00" x2="432.40" y2="165.40" stroke="#222" stroke-width="0.9"/>
<line x1="414.80" y1="174.30" x2="419.20" y2="174.30" stroke="#222" stroke-width="0.9"/>
<line x1="417.00" y1="172.10" x2="417.00" y2="176.50" stroke="#222" stroke-width="0.9"/>
<line x1="430.20" y1="174.30" x2="434.60" y2="174.30" stroke="#222" stroke-width="0.9"/>
<line x1="432.40" y1="172.10" x2="432.40" y2="176.50" stroke="#222" stroke-width="0.9"/>
<line x1="430.20" y1="185.30" x2="434.60" y2="185.30" stroke="#222" stroke-width="0.9"/>
<line x1="432.40" y1="183.10" x2="432.40" y2="187.50" stroke="#222" stroke-width="0.9"/>
<line x1="455.20" y1="153.20" x2="459.60" y2="153.20" stroke="#222" stroke-width="0.9"/>
<line x1="457.40" y1="151.00" x2="457.40" y2="155.40" stroke="#222" stroke-width="0.9"/>
<line x1="470.60" y1="163.20" x2="475.00" y2="163.20" stroke="#222" stroke-width="0.9"/>
<line x1="472.80" y1="161.00" x2="472.80" y2="165.40" stroke="#222" stroke-width="0.9"/>
<line x1="486.00" y1="163.20" x2="490.40" y2="163.20" stroke="#222" stroke-width="0.9"/>
<line x1="488.20" y1="161.00" x2="488.20" y2="165.40" stroke="#222" stroke-width="0.9"/>
<line x1="501.40" y1="163.20" x2="505.80" y2="163.20" stroke="#222" stroke-width="0.9"/>
<line x1="503.60" y1="161.00" x2="503.60" y2="165.40" stroke="#222" stroke-width="0.9"/>
<line x1="486.00" y1="174.30" x2="490.40" y2="174.30" stroke="#222" stroke-width="0.9"/>
<line x1="488.20" y1="172.10" x2="488.20" y2="176.50" stroke="#222" stroke-width="0.9"/>
<line x1="501.40" y1="174.30" x2="505.80" y2="174.30" stroke="#222" stroke-width="0.9"/>
<line x1="503.60" y1="172.10" x2="503.60" y2="176.50" stroke="#222" stroke-width="0.9"/>
<line x1="501.40" y1="185.30" x2="505.80" y2="185.30" stroke="#222" stroke-width="0.9"/>
<line x1="503.60" y1="183.10" x2="503.60" y2="187.50" stroke="#222" stroke-width="0.9"/>
<line x1="309.10" y1="197.60" x2="374.40" y2="197.60" stroke="#000" stroke-width="1.5"/>
<text x="342.60" y="207.00" font-size="9.0" text-anchor="middle" font-weight="normal" font-style="normal" >CD28+CD27+</text>
<line x1="382.40" y1="197.60" x2="446.70" y2="197.60" stroke="#000" stroke-width="1.5"/>
<text x="416.90" y="207.00" font-size="9.0" text-anchor="middle" font-weight="normal" font-style="normal" >CD28-CD27+</text>
<line x1="453.60" y1="197.60" x2="519.00" y2="197.60" stroke="#000" stroke-width="1.5"/>
<text x="487.80" y="207.00" font-size="9.0" text-anchor="middle" font-weight="normal" font-style="normal" >CD28-CD27-</text>
<text x="0" y="0" font-size="14.6" font-weight="bold" transform="translate(266.60,238.20) scale(1.05,1.02)">D</text>
<line x1="304.70" y1="235.65" x2="304.70" y2="354.00" stroke="#000" stroke-width="1.4"/>
<line x1="300.30" y1="353.40" x2="304.70" y2="353.40" stroke="#000" stroke-width="1.25"/>
<text x="299.20" y="356.70" font-size="9.8" text-anchor="end" font-weight="normal" font-style="normal" >0</text>
<line x1="300.30" y1="329.97" x2="304.70" y2="329.97" stroke="#000" stroke-width="1.25"/>
<text x="299.20" y="333.27" font-size="9.8" text-anchor="end" font-weight="normal" font-style="normal" >10</text>
<line x1="300.30" y1="306.54" x2="304.70" y2="306.54" stroke="#000" stroke-width="1.25"/>
<text x="299.20" y="309.84" font-size="9.8" text-anchor="end" font-weight="normal" font-style="normal" >20</text>
<line x1="300.30" y1="283.11" x2="304.70" y2="283.11" stroke="#000" stroke-width="1.25"/>
<text x="299.20" y="286.41" font-size="9.8" text-anchor="end" font-weight="normal" font-style="normal" >30</text>
<line x1="300.30" y1="259.68" x2="304.70" y2="259.68" stroke="#000" stroke-width="1.25"/>
<text x="299.20" y="262.98" font-size="9.8" text-anchor="end" font-weight="normal" font-style="normal" >40</text>
<line x1="300.30" y1="236.25" x2="304.70" y2="236.25" stroke="#000" stroke-width="1.25"/>
<text x="299.20" y="239.55" font-size="9.8" text-anchor="end" font-weight="normal" font-style="normal" >50</text>
<text x="0" y="0" font-size="10" text-anchor="middle" transform="translate(284.00,289.00) rotate(-90)">MFI p27</text>
<line x1="304.00" y1="353.40" x2="518.80" y2="353.40" stroke="#000" stroke-width="1.4"/>
<line x1="317.16" y1="266.70" x2="317.16" y2="276.30" stroke="#000" stroke-width="1.25"/>
<line x1="312.96" y1="266.70" x2="321.36" y2="266.70" stroke="#000" stroke-width="1.35"/>
<rect x="309.20" y="276.30" width="15.93" height="77.10" fill="#000" stroke="#000" stroke-width="1.25"/>
<line x1="317.16" y1="353.40" x2="317.16" y2="357.60" stroke="#000" stroke-width="1.2"/>
<line x1="333.09" y1="311.00" x2="333.09" y2="316.60" stroke="#000" stroke-width="1.25"/>
<line x1="328.89" y1="311.00" x2="337.29" y2="311.00" stroke="#000" stroke-width="1.35"/>
<rect x="325.13" y="316.60" width="15.93" height="36.80" fill="#a9a9a9" stroke="#000" stroke-width="1.25"/>
<line x1="333.09" y1="353.40" x2="333.09" y2="357.60" stroke="#000" stroke-width="1.2"/>
<line x1="349.02" y1="313.30" x2="349.02" y2="319.00" stroke="#000" stroke-width="1.25"/>
<line x1="344.82" y1="313.30" x2="353.22" y2="313.30" stroke="#000" stroke-width="1.35"/>
<rect x="341.06" y="319.00" width="15.93" height="34.40" fill="#fff" stroke="#000" stroke-width="1.25"/>
<line x1="349.02" y1="353.40" x2="349.02" y2="357.60" stroke="#000" stroke-width="1.2"/>
<line x1="364.95" y1="294.10" x2="364.95" y2="301.40" stroke="#000" stroke-width="1.25"/>
<line x1="360.75" y1="294.10" x2="369.15" y2="294.10" stroke="#000" stroke-width="1.35"/>
<rect x="356.99" y="301.40" width="15.93" height="52.00" fill="url(#hatch)" stroke="#000" stroke-width="1.25"/>
<line x1="364.95" y1="353.40" x2="364.95" y2="357.60" stroke="#000" stroke-width="1.2"/>
<line x1="387.86" y1="261.90" x2="387.86" y2="269.80" stroke="#000" stroke-width="1.25"/>
<line x1="383.66" y1="261.90" x2="392.06" y2="261.90" stroke="#000" stroke-width="1.35"/>
<rect x="379.90" y="269.80" width="15.93" height="83.60" fill="#000" stroke="#000" stroke-width="1.25"/>
<line x1="387.86" y1="353.40" x2="387.86" y2="357.60" stroke="#000" stroke-width="1.2"/>
<line x1="403.79" y1="296.60" x2="403.79" y2="302.20" stroke="#000" stroke-width="1.25"/>
<line x1="399.59" y1="296.60" x2="407.99" y2="296.60" stroke="#000" stroke-width="1.35"/>
<rect x="395.83" y="302.20" width="15.93" height="51.20" fill="#a9a9a9" stroke="#000" stroke-width="1.25"/>
<line x1="403.79" y1="353.40" x2="403.79" y2="357.60" stroke="#000" stroke-width="1.2"/>
<line x1="419.72" y1="315.80" x2="419.72" y2="320.00" stroke="#000" stroke-width="1.25"/>
<line x1="415.52" y1="315.80" x2="423.92" y2="315.80" stroke="#000" stroke-width="1.35"/>
<rect x="411.76" y="320.00" width="15.93" height="33.40" fill="#fff" stroke="#000" stroke-width="1.25"/>
<line x1="419.72" y1="353.40" x2="419.72" y2="357.60" stroke="#000" stroke-width="1.2"/>
<line x1="435.65" y1="289.70" x2="435.65" y2="297.00" stroke="#000" stroke-width="1.25"/>
<line x1="431.45" y1="289.70" x2="439.85" y2="289.70" stroke="#000" stroke-width="1.35"/>
<rect x="427.69" y="297.00" width="15.93" height="56.40" fill="url(#hatch)" stroke="#000" stroke-width="1.25"/>
<line x1="435.65" y1="353.40" x2="435.65" y2="357.60" stroke="#000" stroke-width="1.2"/>
<line x1="458.49" y1="258.80" x2="458.49" y2="272.60" stroke="#000" stroke-width="1.25"/>
<line x1="454.29" y1="258.80" x2="462.69" y2="258.80" stroke="#000" stroke-width="1.35"/>
<rect x="450.60" y="272.60" width="15.78" height="80.80" fill="#000" stroke="#000" stroke-width="1.25"/>
<line x1="458.49" y1="353.40" x2="458.49" y2="357.60" stroke="#000" stroke-width="1.2"/>
<line x1="474.27" y1="268.40" x2="474.27" y2="280.70" stroke="#000" stroke-width="1.25"/>
<line x1="470.07" y1="268.40" x2="478.47" y2="268.40" stroke="#000" stroke-width="1.35"/>
<rect x="466.38" y="280.70" width="15.78" height="72.70" fill="#a9a9a9" stroke="#000" stroke-width="1.25"/>
<line x1="474.27" y1="353.40" x2="474.27" y2="357.60" stroke="#000" stroke-width="1.2"/>
<line x1="490.05" y1="301.40" x2="490.05" y2="306.60" stroke="#000" stroke-width="1.25"/>
<line x1="485.85" y1="301.40" x2="494.25" y2="301.40" stroke="#000" stroke-width="1.35"/>
<rect x="482.16" y="306.60" width="15.78" height="46.80" fill="#fff" stroke="#000" stroke-width="1.25"/>
<line x1="490.05" y1="353.40" x2="490.05" y2="357.60" stroke="#000" stroke-width="1.2"/>
<line x1="505.83" y1="287.00" x2="505.83" y2="296.00" stroke="#000" stroke-width="1.25"/>
<line x1="501.63" y1="287.00" x2="510.03" y2="287.00" stroke="#000" stroke-width="1.35"/>
<rect x="497.94" y="296.00" width="15.78" height="57.40" fill="url(#hatch)" stroke="#000" stroke-width="1.25"/>
<line x1="505.83" y1="353.40" x2="505.83" y2="357.60" stroke="#000" stroke-width="1.2"/>
<line x1="336.10" y1="244.60" x2="375.10" y2="244.60" stroke="#000" stroke-width="1.5"/>
<text x="337.80" y="242.80" font-size="8.8"><tspan font-style="italic">P</tspan> = .0672</text>
<line x1="409.70" y1="244.60" x2="443.70" y2="244.60" stroke="#000" stroke-width="1.5"/>
<text x="407.00" y="242.80" font-size="8.8"><tspan font-style="italic">P</tspan> = .0591</text>
<line x1="478.90" y1="244.60" x2="514.60" y2="244.60" stroke="#000" stroke-width="1.5"/>
<text x="480.70" y="242.80" font-size="8.8"><tspan font-style="italic">P</tspan> = .190</text>
<text x="311.30" y="369.20" font-size="8.9" text-anchor="end" font-weight="normal" font-style="normal" >no stim</text>
<text x="311.30" y="379.60" font-size="8.9" text-anchor="end" font-weight="normal" font-style="normal" >stim</text>
<text x="311.30" y="390.40" font-size="8.9" text-anchor="end" font-weight="normal" font-style="normal" >aE-cad</text>
<text x="311.30" y="401.00" font-size="8.9" text-anchor="end" font-weight="normal" font-style="normal" >AKTi</text>
<line x1="315.00" y1="366.10" x2="319.40" y2="366.10" stroke="#222" stroke-width="0.9"/>
<line x1="317.20" y1="363.90" x2="317.20" y2="368.30" stroke="#222" stroke-width="0.9"/>
<line x1="330.40" y1="375.80" x2="334.80" y2="375.80" stroke="#222" stroke-width="0.9"/>
<line x1="332.60" y1="373.60" x2="332.60" y2="378.00" stroke="#222" stroke-width="0.9"/>
<line x1="345.80" y1="375.80" x2="350.20" y2="375.80" stroke="#222" stroke-width="0.9"/>
<line x1="348.00" y1="373.60" x2="348.00" y2="378.00" stroke="#222" stroke-width="0.9"/>
<line x1="361.20" y1="375.80" x2="365.60" y2="375.80" stroke="#222" stroke-width="0.9"/>
<line x1="363.40" y1="373.60" x2="363.40" y2="378.00" stroke="#222" stroke-width="0.9"/>
<line x1="345.80" y1="387.60" x2="350.20" y2="387.60" stroke="#222" stroke-width="0.9"/>
<line x1="348.00" y1="385.40" x2="348.00" y2="389.80" stroke="#222" stroke-width="0.9"/>
<line x1="361.20" y1="387.60" x2="365.60" y2="387.60" stroke="#222" stroke-width="0.9"/>
<line x1="363.40" y1="385.40" x2="363.40" y2="389.80" stroke="#222" stroke-width="0.9"/>
<line x1="361.20" y1="398.50" x2="365.60" y2="398.50" stroke="#222" stroke-width="0.9"/>
<line x1="363.40" y1="396.30" x2="363.40" y2="400.70" stroke="#222" stroke-width="0.9"/>
<line x1="385.70" y1="366.10" x2="390.10" y2="366.10" stroke="#222" stroke-width="0.9"/>
<line x1="387.90" y1="363.90" x2="387.90" y2="368.30" stroke="#222" stroke-width="0.9"/>
<line x1="401.10" y1="375.80" x2="405.50" y2="375.80" stroke="#222" stroke-width="0.9"/>
<line x1="403.30" y1="373.60" x2="403.30" y2="378.00" stroke="#222" stroke-width="0.9"/>
<line x1="416.50" y1="375.80" x2="420.90" y2="375.80" stroke="#222" stroke-width="0.9"/>
<line x1="418.70" y1="373.60" x2="418.70" y2="378.00" stroke="#222" stroke-width="0.9"/>
<line x1="431.90" y1="375.80" x2="436.30" y2="375.80" stroke="#222" stroke-width="0.9"/>
<line x1="434.10" y1="373.60" x2="434.10" y2="378.00" stroke="#222" stroke-width="0.9"/>
<line x1="416.50" y1="387.60" x2="420.90" y2="387.60" stroke="#222" stroke-width="0.9"/>
<line x1="418.70" y1="385.40" x2="418.70" y2="389.80" stroke="#222" stroke-width="0.9"/>
<line x1="431.90" y1="387.60" x2="436.30" y2="387.60" stroke="#222" stroke-width="0.9"/>
<line x1="434.10" y1="385.40" x2="434.10" y2="389.80" stroke="#222" stroke-width="0.9"/>
<line x1="431.90" y1="398.50" x2="436.30" y2="398.50" stroke="#222" stroke-width="0.9"/>
<line x1="434.10" y1="396.30" x2="434.10" y2="400.70" stroke="#222" stroke-width="0.9"/>
<line x1="456.40" y1="366.10" x2="460.80" y2="366.10" stroke="#222" stroke-width="0.9"/>
<line x1="458.60" y1="363.90" x2="458.60" y2="368.30" stroke="#222" stroke-width="0.9"/>
<line x1="471.80" y1="375.80" x2="476.20" y2="375.80" stroke="#222" stroke-width="0.9"/>
<line x1="474.00" y1="373.60" x2="474.00" y2="378.00" stroke="#222" stroke-width="0.9"/>
<line x1="487.20" y1="375.80" x2="491.60" y2="375.80" stroke="#222" stroke-width="0.9"/>
<line x1="489.40" y1="373.60" x2="489.40" y2="378.00" stroke="#222" stroke-width="0.9"/>
<line x1="502.60" y1="375.80" x2="507.00" y2="375.80" stroke="#222" stroke-width="0.9"/>
<line x1="504.80" y1="373.60" x2="504.80" y2="378.00" stroke="#222" stroke-width="0.9"/>
<line x1="487.20" y1="387.60" x2="491.60" y2="387.60" stroke="#222" stroke-width="0.9"/>
<line x1="489.40" y1="385.40" x2="489.40" y2="389.80" stroke="#222" stroke-width="0.9"/>
<line x1="502.60" y1="387.60" x2="507.00" y2="387.60" stroke="#222" stroke-width="0.9"/>
<line x1="504.80" y1="385.40" x2="504.80" y2="389.80" stroke="#222" stroke-width="0.9"/>
<line x1="502.60" y1="398.50" x2="507.00" y2="398.50" stroke="#222" stroke-width="0.9"/>
<line x1="504.80" y1="396.30" x2="504.80" y2="400.70" stroke="#222" stroke-width="0.9"/>
<line x1="309.90" y1="406.60" x2="375.50" y2="406.60" stroke="#000" stroke-width="1.5"/>
<text x="344.40" y="416.20" font-size="9.0" text-anchor="middle" font-weight="normal" font-style="normal" >CD28+CD27+</text>
<line x1="384.20" y1="406.60" x2="448.50" y2="406.60" stroke="#000" stroke-width="1.5"/>
<text x="418.70" y="416.20" font-size="9.0" text-anchor="middle" font-weight="normal" font-style="normal" >CD28-CD27+</text>
<line x1="455.40" y1="406.60" x2="520.80" y2="406.60" stroke="#000" stroke-width="1.5"/>
<text x="489.60" y="416.20" font-size="9.0" text-anchor="middle" font-weight="normal" font-style="normal" >CD28-CD27-</text>
</svg>
</body></html>
